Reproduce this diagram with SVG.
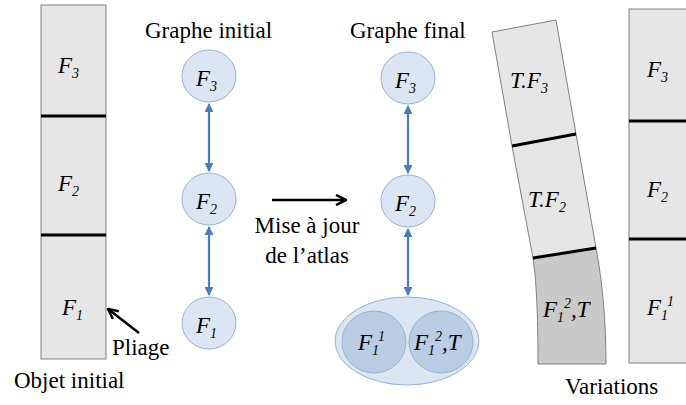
<svg xmlns="http://www.w3.org/2000/svg" width="686" height="405" viewBox="0 0 686 405">
<defs>
<style>
text{font-family:'Liberation Serif','Times New Roman',serif;fill:#000}
.cap{font-size:23px}
.f{font-size:23px;font-style:italic}
.s{font-size:14px}
.seg{fill:#e6e6e6;stroke:#808080;stroke-width:1}
.dark{fill:#c9c9c9;stroke:#808080;stroke-width:1}
.div{stroke:#000;stroke-width:3;fill:none}
.nd{fill:#dce6f2;stroke:#95b3d7;stroke-width:1}
.inner{fill:#b9cde5;stroke:#95b3d7;stroke-width:1}
.lnk{stroke:#4a7ebb;stroke-width:2.2;fill:none;marker-start:url(#bh);marker-end:url(#bh)}
.blk{stroke:#000;stroke-width:2.5;fill:none;marker-end:url(#kh)}
</style>
<marker id="bh" viewBox="0 0 10 10" refX="9" refY="5" markerWidth="4" markerHeight="4" orient="auto-start-reverse">
<path d="M0,0 L10,5 L0,10 z" fill="#4a7ebb"/>
</marker>
<marker id="kh" viewBox="0 0 12 12" refX="11" refY="6" markerUnits="userSpaceOnUse" markerWidth="12" markerHeight="12" orient="auto">
<path d="M1,1 L11,6 L1,11" fill="none" stroke="#000" stroke-width="2.5" stroke-linejoin="miter"/>
</marker>
</defs>

<!-- initial object: three stacked parts -->
<g id="objet-initial">
<rect class="seg" x="41" y="5" width="65" height="354"/>
<line class="div" x1="41" y1="116" x2="106" y2="116"/>
<line class="div" x1="41" y1="235" x2="106" y2="235"/>
<text class="f" x="58" y="73">F<tspan class="s" dy="5">3</tspan></text>
<text class="f" x="58" y="191">F<tspan class="s" dy="5">2</tspan></text>
<text class="f" x="62" y="315">F<tspan class="s" dy="5">1</tspan></text>
<text class="cap" x="14" y="388">Objet initial</text>
</g>

<g id="pliage">
<line class="blk" x1="139" y1="333" x2="108" y2="309"/>
<text class="cap" x="112" y="355">Pliage</text>
</g>

<!-- initial graph -->
<g id="graphe-initial-titre"><text class="cap" x="145" y="38">Graphe initial</text></g>
<g id="gi-f3"><ellipse class="nd" cx="209" cy="76" rx="27" ry="26"/><text class="f" x="196" y="86">F<tspan class="s" dy="5">3</tspan></text></g>
<g id="gi-f2"><ellipse class="nd" cx="209" cy="199" rx="27" ry="26"/><text class="f" x="196" y="209">F<tspan class="s" dy="5">2</tspan></text></g>
<g id="gi-f1"><ellipse class="nd" cx="209" cy="323" rx="27" ry="26"/><text class="f" x="196" y="333">F<tspan class="s" dy="5">1</tspan></text></g>

<!-- atlas update arrow -->
<g id="mise-a-jour">
<line class="blk" x1="272" y1="200" x2="346" y2="200"/>
<text class="cap" x="307" y="233" text-anchor="middle">Mise à jour</text>
<text class="cap" x="307" y="263" text-anchor="middle">de l’atlas</text>
</g>

<!-- final graph -->
<g id="graphe-final-titre"><text class="cap" x="350" y="38">Graphe final</text></g>
<g id="gf-f3"><ellipse class="nd" cx="408" cy="78" rx="27" ry="26"/><text class="f" x="395" y="88">F<tspan class="s" dy="5">3</tspan></text></g>
<g id="gf-f2"><ellipse class="nd" cx="408" cy="201" rx="27" ry="26"/><text class="f" x="395" y="211">F<tspan class="s" dy="5">2</tspan></text></g>
<g id="gf-f1">
<ellipse class="nd" cx="407" cy="341" rx="72" ry="44"/>
<ellipse class="inner" cx="374" cy="342" rx="32" ry="31"/>
<ellipse class="inner" cx="441" cy="342" rx="32" ry="31"/>
<text class="f" x="358" y="350">F<tspan class="s" dy="5">1</tspan><tspan class="s" dy="-14">1</tspan></text>
<text class="f" x="414" y="350">F<tspan class="s" dy="5">1</tspan><tspan class="s" dy="-14">2</tspan><tspan dy="9">,T</tspan></text>
</g>

<!-- graph links -->
<g id="liens">
<line class="lnk" x1="209" y1="104" x2="209" y2="171"/>
<line class="lnk" x1="209" y1="227" x2="209" y2="295"/>
<line class="lnk" x1="408" y1="106" x2="408" y2="173"/>
<line class="lnk" x1="408" y1="229" x2="408" y2="295"/>
</g>

<!-- variation: bent object -->
<g id="variation-pliee">
<polygon class="seg" points="492,32 556,20 576,134 512,146"/>
<polygon class="seg" points="512,146 576,134 596,248 533,258"/>
<path class="dark" d="M533,258 L596,248 C603,285 606,325 606,364 L538,364 C538,325 537,285 533,258 z"/>
<line class="div" x1="512" y1="146" x2="576" y2="134"/>
<line class="div" x1="533" y1="258" x2="596" y2="248"/>
<text class="f" x="510" y="88">T.F<tspan class="s" dy="5">3</tspan></text>
<text class="f" x="528" y="207">T.F<tspan class="s" dy="5">2</tspan></text>
<text class="f" x="543" y="317">F<tspan class="s" dy="5">1</tspan><tspan class="s" dy="-14">2</tspan><tspan dy="9">,T</tspan></text>
</g>

<!-- variation: straight object -->
<g id="variation-droite">
<rect class="seg" x="629" y="9" width="80" height="354"/>
<line class="div" x1="629" y1="121" x2="686" y2="121"/>
<line class="div" x1="629" y1="239" x2="686" y2="239"/>
<text class="f" x="647" y="77">F<tspan class="s" dy="5">3</tspan></text>
<text class="f" x="647" y="197">F<tspan class="s" dy="5">2</tspan></text>
<text class="f" x="647" y="315">F<tspan class="s" dy="5">1</tspan><tspan class="s" dy="-14">1</tspan></text>
</g>

<g id="variations-titre"><text class="cap" x="565" y="394">Variations</text></g>
</svg>
